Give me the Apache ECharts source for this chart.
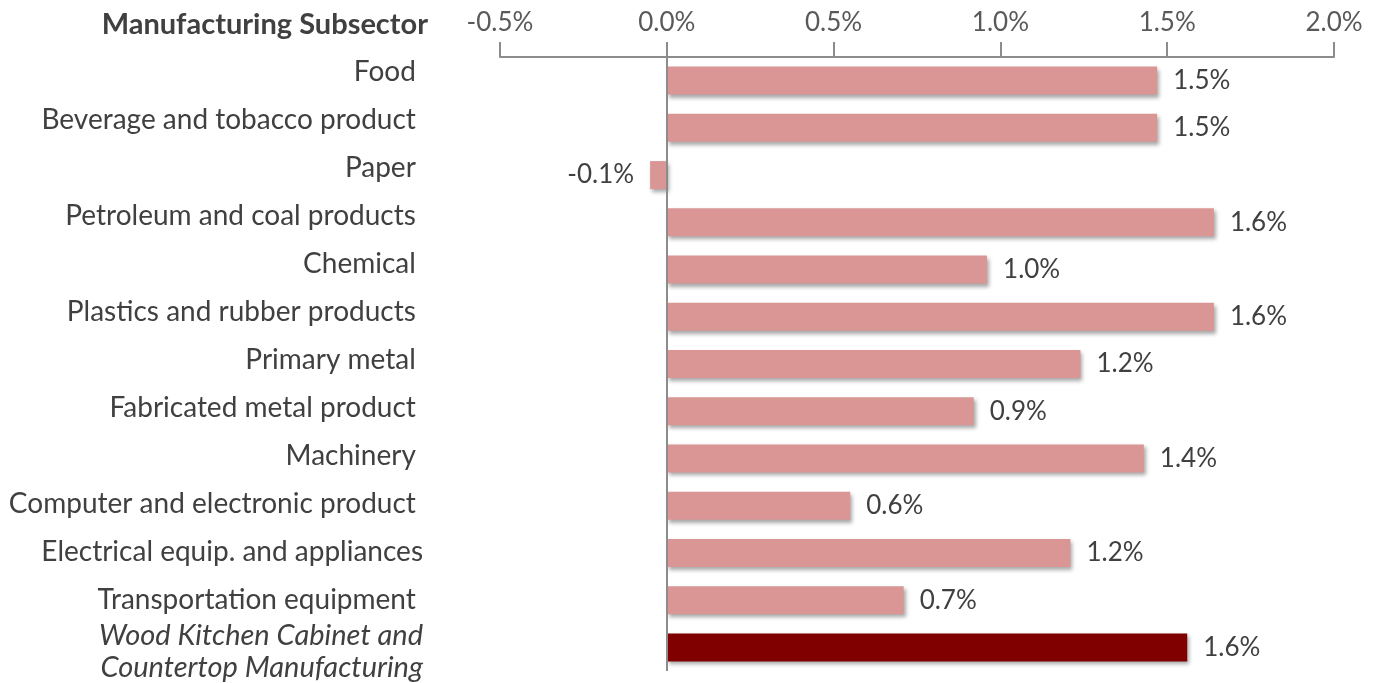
<!DOCTYPE html>
<html>
<head>
<meta charset="utf-8">
<script src="https://cdn.jsdelivr.net/npm/echarts@6/dist/echarts.min.js"></script>
<style>
  html, body { margin: 0; padding: 0; background: #fff; }
  #chart { width: 1377px; height: 683px; }
</style>
</head>
<body>
<div id="chart"></div>
<script>
// categories top to bottom
const subsectors = [
  'Food ',
  'Beverage and tobacco product ',
  'Paper ',
  'Petroleum and coal products ',
  'Chemical ',
  'Plastics and rubber products ',
  'Primary metal ',
  'Fabricated metal product ',
  'Machinery ',
  'Computer and electronic product ',
  'Electrical equip. and appliances',
  'Transportation equipment ',
  'Wood Kitchen Cabinet and\nCountertop Manufacturing'
]
// growth, percent
const growth = [1.47, 1.47, -0.05, 1.64, 0.96, 1.64, 1.24, 0.92, 1.43, 0.55, 1.21, 0.71, 1.56]
const xTicks = [-0.5, 0, 0.5, 1.0, 1.5, 2.0]

const highlight = subsectors.length - 1

const chart = echarts.init(document.getElementById('chart'))
const option = {
  animation: false,
  textStyle: { fontFamily: 'Lato' },
  title: {
    text: 'Manufacturing Subsector',
    right: 944,
    top: 5,
    textStyle: { fontFamily: 'Lato', fontSize: 29, fontWeight: 'bold', color: '#404040' }
  },
  // grid 0 holds the bars, grid 1 only carries the category labels
  // (the labels are spaced a little wider than the bars, as in the original)
  grid: [
    { left: 500, right: 43, top: 57, bottom: 12, containLabel: false },
    { left: 500, right: 43, top: 48, bottom: 11, containLabel: false }
  ],
  xAxis: [
    {
      type: 'value',
      gridIndex: 0,
      position: 'top',
      min: xTicks[0],
      max: xTicks[xTicks.length - 1],
      interval: 0.5,
      axisLine: { show: true, lineStyle: { color: '#8c8c8c', width: 2 } },
      axisTick: { show: true, length: 15, lineStyle: { color: '#8c8c8c', width: 2 } },
      splitLine: { show: false },
      axisLabel: {
        margin: 21,
        fontSize: 26,
        color: '#595959',
        formatter: v => v.toFixed(1) + '%'
      }
    },
    {
      type: 'value',
      gridIndex: 1,
      show: false,
      min: xTicks[0],
      max: xTicks[xTicks.length - 1]
    }
  ],
  yAxis: [
    {
      type: 'category',
      gridIndex: 0,
      inverse: true,
      data: subsectors,
      axisLine: { show: false, onZero: false },
      axisTick: { show: false },
      axisLabel: { show: false }
    },
    {
      type: 'category',
      gridIndex: 1,
      inverse: true,
      data: subsectors,
      axisLine: { show: false, onZero: false },
      axisTick: { show: false },
      splitLine: { show: false },
      axisLabel: {
        interval: 0,
        margin: 77,
        fontSize: 28,
        color: '#404040',
        formatter: (v, i) => i === highlight
          ? v.split('\n').map(s => '{it|' + s + '}').join('\n')
          : v,
        rich: {
          it: { fontStyle: 'italic', fontSize: 29, color: '#404040', lineHeight: 32, padding: [8, 0, 0, 0] }
        }
      }
    }
  ],
  series: [
    {
      type: 'bar',
      xAxisIndex: 0,
      yAxisIndex: 0,
      barWidth: 28,
      data: growth.map((v, i) => ({
        value: v,
        itemStyle: { color: i === highlight ? '#800000' : '#d99694' },
        label: { position: v < 0 ? 'left' : 'right' }
      })),
      itemStyle: {
        shadowColor: 'rgba(0,0,0,0.35)',
        shadowBlur: 4,
        shadowOffsetX: 2,
        shadowOffsetY: 3
      },
      label: {
        show: true,
        distance: 16,
        fontSize: 26,
        color: '#404040',
        formatter: p => p.value.toFixed(1) + '%'
      },
      markLine: {
        silent: true,
        symbol: 'none',
        label: { show: false },
        lineStyle: { color: '#8c8c8c', width: 2, type: 'solid' },
        data: [{ xAxis: 0 }]
      }
    }
  ]
}
chart.setOption(option)
window.onresize = chart.resize
</script>
</body>
</html>
